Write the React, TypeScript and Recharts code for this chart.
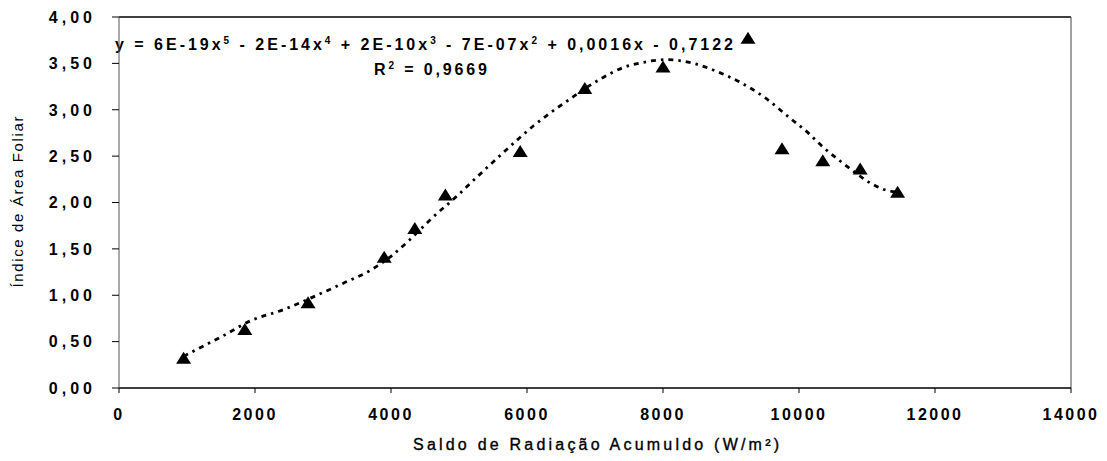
import React from "react";
import {
  ComposedChart,
  XAxis,
  YAxis,
  Scatter,
  Line,
  ReferenceLine,
  Customized,
} from "recharts";

// Measured leaf area index against accumulated net radiation
const radX = [950, 1850, 2780, 3900, 4350, 4800, 5900, 6850, 8000, 9250, 9750, 10350, 10900, 11450];
const iafY = [0.32, 0.63, 0.92, 1.41, 1.72, 2.08, 2.55, 3.23, 3.46, 3.77, 2.58, 2.45, 2.36, 2.11];

// Polynomial trend line (5th order) sampled along its path
const trendX = [
  950, 1050, 1550, 1950, 2400, 2850, 3300, 3700, 4000, 4250, 4600, 5000, 5200, 5550, 5850, 6100, 6350,
  6600, 7100, 7400, 7700, 8050, 8450, 8800, 9150, 9500, 9850, 10150, 10350, 10600, 10850, 11050, 11250, 11450,
];
const trendY = [
  0.34, 0.38, 0.57, 0.73, 0.84, 0.98, 1.13, 1.27, 1.42, 1.58, 1.83, 2.09, 2.23, 2.47, 2.67, 2.83, 2.97,
  3.1, 3.34, 3.45, 3.51, 3.54, 3.5, 3.41, 3.29, 3.13, 2.92, 2.74, 2.6, 2.45, 2.31, 2.21, 2.14, 2.11,
];

const xTicks = [0, 2000, 4000, 6000, 8000, 10000, 12000, 14000];
const yTicks = [0, 0.5, 1, 1.5, 2, 2.5, 3, 3.5, 4];

const xTitle = "Saldo de Radiação Acumuldo (W/m²)";
const yTitle = "Índice de Área Foliar";
const r2Text = "0,9669";

const points = radX.map((x, i) => ({ x, y: iafY[i] }));
const trend = trendX.map((x, i) => ({ x, t: trendY[i] }));

const FONT = '"Liberation Sans", Arial, Helvetica, sans-serif';

const fmtY = (v: number) => v.toFixed(2).replace(".", ",");

const Triangle = (props: any) => {
  const { cx, cy } = props;
  if (cx == null || cy == null) return null;
  return (
    <polygon
      points={`${cx},${cy - 6.5} ${cx - 7.5},${cy + 5.5} ${cx + 7.5},${cy + 5.5}`}
      fill="#000"
    />
  );
};

const YTick = (props: any) => {
  const { x, y, payload } = props;
  return (
    <text
      x={x + 4}
      y={y}
      dy={5.8}
      textAnchor="end"
      fontFamily={FONT}
      fontWeight="bold"
      fontSize={16}
      letterSpacing={4}
      fill="#000"
    >
      {fmtY(payload.value)}
    </text>
  );
};

const XTick = (props: any) => {
  const { x, y, payload } = props;
  return (
    <text
      x={x}
      y={y}
      dy={25}
      textAnchor="middle"
      fontFamily={FONT}
      fontWeight="bold"
      fontSize={16}
      letterSpacing={2.5}
      fill="#000"
    >
      {String(payload.value)}
    </text>
  );
};

const Sup = ({ children }: { children: React.ReactNode }) => (
  <tspan dy={-6} fontSize={10}>
    {children}
  </tspan>
);
const Base = ({ children }: { children: React.ReactNode }) => <tspan dy={6}>{children}</tspan>;

const Annotations = () => (
  <g fontFamily={FONT} fill="#000">
    <text x={107} y={42} fontSize={16} fontWeight="bold" textLength={618} lengthAdjust="spacing">
      <tspan>y = 6E-19x</tspan>
      <Sup>5</Sup>
      <Base> - 2E-14x</Base>
      <Sup>4</Sup>
      <Base> + 2E-10x</Base>
      <Sup>3</Sup>
      <Base> - 7E-07x</Base>
      <Sup>2</Sup>
      <Base> + 0,0016x - 0,7122</Base>
    </text>
    <text x={366} y={67} fontSize={16} fontWeight="bold" textLength={113} lengthAdjust="spacing">
      <tspan>R</tspan>
      <Sup>2</Sup>
      <Base>{` = ${r2Text}`}</Base>
    </text>
    <text
      x={588}
      y={442}
      fontSize={16}
      textAnchor="middle"
      textLength={366}
      lengthAdjust="spacing"
      stroke="#000"
      strokeWidth={0.35}
    >
      {xTitle}
    </text>
    <text
      x={15}
      y={194}
      fontSize={15}
      textAnchor="middle"
      transform="rotate(-90, 15, 194)"
      textLength={171}
      lengthAdjust="spacing"
    >
      {yTitle}
    </text>
  </g>
);

export default function App() {
  return (
    <div style={{ width: 1091, height: 445, background: "#fff" }}>
      <ComposedChart
        width={1091}
        height={445}
        margin={{ top: 9, right: 28, bottom: 0, left: 0 }}
        style={{ overflow: "visible" }}
      >
        <XAxis
          type="number"
          dataKey="x"
          domain={[0, 14000]}
          ticks={xTicks}
          allowDataOverflow
          height={65}
          tickSize={5}
          tickMargin={2}
          tick={<XTick />}
          axisLine={{ stroke: "#000", strokeWidth: 1.5 }}
          tickLine={{ stroke: "#000" }}
        />
        <YAxis
          type="number"
          domain={[0, 4]}
          ticks={yTicks}
          allowDataOverflow
          width={111}
          tickSize={7}
          tickMargin={20}
          tick={<YTick />}
          axisLine={{ stroke: "#555", strokeWidth: 1 }}
          tickLine={{ stroke: "#000" }}
        />
        <ReferenceLine y={4} stroke="#000" strokeWidth={1.5} />
        <ReferenceLine x={14000} stroke="#444" strokeWidth={1} />
        <Line
          data={trend}
          dataKey="t"
          type="monotone"
          stroke="#000"
          strokeWidth={2.8}
          strokeDasharray="5 5 2.5 5"
          dot={false}
          activeDot={false}
          isAnimationActive={false}
        />
        <Scatter data={points} dataKey="y" shape={<Triangle />} isAnimationActive={false} />
        <Customized component={Annotations} />
      </ComposedChart>
    </div>
  );
}
